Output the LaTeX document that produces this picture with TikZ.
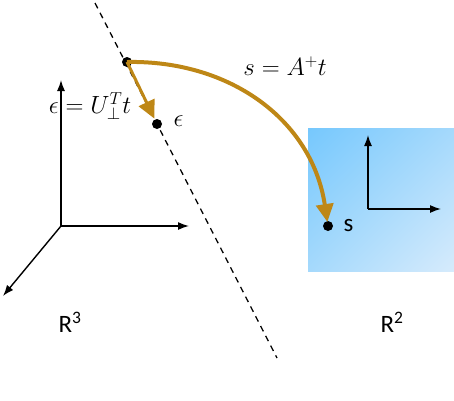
\documentclass[tikz,border=0pt]{standalone}
\usepackage{fontspec}
\setmainfont{Carlito}
\usetikzlibrary{arrows.meta,shadings}
\definecolor{gold}{RGB}{190,135,22}
\definecolor{bluetl}{RGB}{118,200,253}
\definecolor{bluemid}{RGB}{165,217,252}
\definecolor{bluebr}{RGB}{214,235,252}
\tikzset{
  dot/.style={circle,fill=black,inner sep=0pt,minimum size=10pt},
  axis/.style={line width=1.4pt,-{Latex[length=11pt,width=8pt]}},
  goldarrow/.style={draw=gold,-{Triangle[length=18pt,width=17pt]}},
  mathlbl/.style={font=\fontsize{26}{30}\selectfont},
  sanslbl/.style={font=\fontsize{25}{30}\selectfont}
}
\begin{document}
\begin{tikzpicture}[x=1pt,y=-1pt]
\useasboundingbox (0,0) rectangle (454,400);
% blue region
\shade[upper left=bluetl,upper right=bluemid,lower left=bluemid,lower right=bluebr]
  (308,128) rectangle (454,271);
% dashed line
\coordinate (dtop) at (95,3);
\coordinate (dbot) at (277,358);
\draw[dashed,dash pattern=on 6pt off 5pt,line width=1.3pt] (dtop) -- (dbot);
% 3D axes
\coordinate (o3) at (61,226);
\coordinate (y3) at (61,80);
\coordinate (x3) at (189,226);
\coordinate (z3) at (3,296);
\draw[axis] (o3) -- (y3);
\draw[axis] (o3) -- (x3);
\draw[axis] (o3) -- (z3);
% 2D axes
\coordinate (o2) at (368,209);
\coordinate (y2) at (368,135);
\coordinate (x2) at (441,209);
\draw[axis] (o2) -- (y2);
\draw[axis] (o2) -- (x2);
% points
\node[dot] (p) at (127,62) {};
\node[dot] (e) at (157,124) {};
\node[dot] (s) at (328,226) {};
% arrows
\draw[goldarrow,line width=3pt,shorten >=6pt] (p.center) -- (e.center);
\draw[goldarrow,line width=4pt,shorten >=4pt] (p.center) .. controls (230,60) and (312,120) .. (s.center);
% labels
\node[mathlbl] (lblA) at (285,66) {$s = A^{+}t$};
\node[mathlbl] (lblU) at (90,106) {$\epsilon = U_{\perp}^{T}t$};
\node[mathlbl,anchor=west] (lble) at (170,121) {$\epsilon$};
\node[sanslbl,anchor=west] (lbls) at (340,226) {s};
\node[sanslbl] (r3) at (70,322) {R\textsuperscript{3}};
\node[sanslbl] (r2) at (392,322) {R\textsuperscript{2}};
\end{tikzpicture}
\end{document}
